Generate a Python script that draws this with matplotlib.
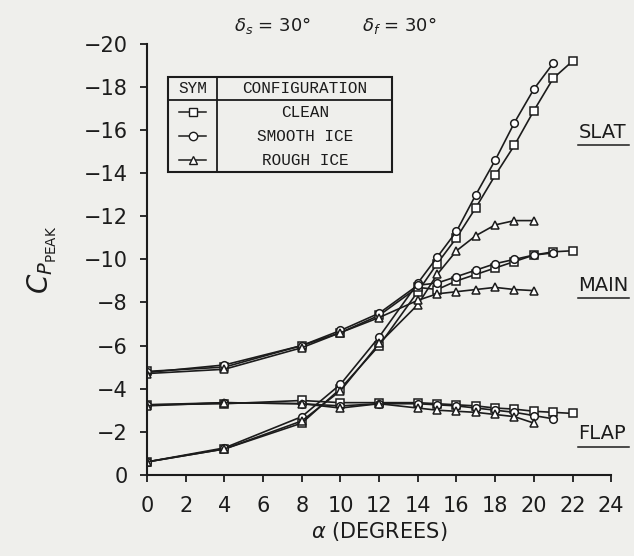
import matplotlib
matplotlib.use("Agg")
import matplotlib.pyplot as plt
from matplotlib.lines import Line2D
from matplotlib.patches import Rectangle

# angle of attack values (degrees)
alpha_clean = [0, 4, 8, 10, 12, 14, 15, 16, 17, 18, 19, 20, 21, 22]
alpha_smooth = [0, 4, 8, 10, 12, 14, 15, 16, 17, 18, 19, 20, 21]
alpha_rough = [0, 4, 8, 10, 12, 14, 15, 16, 17, 18, 19, 20]

# slat peak Cp
slat_clean = [-0.6, -1.2, -2.4, -4.0, -6.0, -8.5, -9.8, -11.0, -12.4, -13.9, -15.3, -16.9, -18.4, -19.2]
slat_smooth = [-0.6, -1.25, -2.7, -4.2, -6.4, -8.9, -10.1, -11.3, -13.0, -14.6, -16.35, -17.9, -19.1]
slat_rough = [-0.6, -1.2, -2.5, -3.9, -6.1, -7.9, -9.3, -10.4, -11.1, -11.6, -11.8, -11.8]

# main element peak Cp
main_clean = [-4.8, -5.0, -6.0, -6.6, -7.4, -8.7, -8.6, -9.0, -9.3, -9.6, -9.9, -10.2, -10.35, -10.4]
main_smooth = [-4.75, -5.1, -6.0, -6.7, -7.5, -8.8, -8.9, -9.2, -9.5, -9.8, -10.0, -10.2, -10.3]
main_rough = [-4.7, -4.9, -5.9, -6.6, -7.3, -8.1, -8.4, -8.5, -8.6, -8.7, -8.6, -8.55]

# flap peak Cp
flap_clean = [-3.25, -3.3, -3.45, -3.35, -3.35, -3.35, -3.3, -3.25, -3.2, -3.1, -3.05, -2.95, -2.9, -2.85]
flap_smooth = [-3.25, -3.35, -3.3, -3.2, -3.3, -3.3, -3.25, -3.2, -3.1, -3.0, -2.9, -2.75, -2.6]
flap_rough = [-3.2, -3.35, -3.3, -3.1, -3.3, -3.1, -3.0, -2.95, -2.9, -2.8, -2.7, -2.4]

x_ticks = list(range(0, 25, 2))
y_ticks = list(range(0, -21, -2))
config_names = ["CLEAN", "SMOOTH ICE", "ROUGH ICE"]
config_markers = ["s", "o", "^"]
element_labels = ["SLAT", "MAIN", "FLAP"]
element_label_y = [-15.9, -8.8, -1.9]

ink = "#1c1c1c"
paper = "#efefec"
plt.rcParams["font.family"] = ["DejaVu Sans"]
plt.rcParams["mathtext.fontset"] = "dejavusans"

fig = plt.figure(figsize=(6.34, 5.56), dpi=100, facecolor=paper)
ax = fig.add_axes([0.232, 0.146, 0.732, 0.775])
ax.set_facecolor(paper)

groups = [
    (alpha_clean, [slat_clean, main_clean, flap_clean], "s"),
    (alpha_smooth, [slat_smooth, main_smooth, flap_smooth], "o"),
    (alpha_rough, [slat_rough, main_rough, flap_rough], "^"),
]
for alpha, series, mk in groups:
    for vals in series:
        ax.plot(alpha, vals, color=ink, lw=1.2, marker=mk, ms=5.5,
                mfc="white", mec=ink, mew=1.1)

ax.set_xlim(0, 24)
ax.set_ylim(0, -20)
ax.set_xticks(x_ticks)
ax.set_yticks(y_ticks)
ax.set_yticklabels(["0"] + ["\u2212%d" % (-t) for t in y_ticks[1:]])
ax.tick_params(colors=ink, labelsize=15, length=5, width=1.3)
ax.tick_params(axis="x", pad=10)
ax.tick_params(axis="y", pad=9)
for s in ["top", "right"]:
    ax.spines[s].set_visible(False)
for s in ["left", "bottom"]:
    ax.spines[s].set_color(ink)
    ax.spines[s].set_linewidth(1.5)

ax.set_xlabel(r"$\alpha$ (DEGREES)", fontsize=15, color=ink, labelpad=3)
ax.set_ylabel(r"$C_{P_{\mathrm{PEAK}}}$", fontsize=20, color=ink, labelpad=18)

fig.text(0.43, 0.955, r"$\delta_s$ = 30°", fontsize=13, color=ink, ha="center", va="center")
fig.text(0.63, 0.955, r"$\delta_f$ = 30°", fontsize=13, color=ink, ha="center", va="center")

# element labels with underline
for label, yv in zip(element_labels, element_label_y):
    ax.text(22.3, yv, label, fontsize=14, color=ink, ha="left", va="center", clip_on=False)
    ax.plot([22.3, 24.9], [yv + 0.6, yv + 0.6], color=ink, lw=1.1, clip_on=False)

# legend table
tab = dict(transform=ax.transAxes, clip_on=False)
mono = "Liberation Mono"
ax.add_patch(Rectangle((0.045, 0.703), 0.483, 0.22, fill=False, ec=ink, lw=1.5, **tab))
ax.add_line(Line2D([0.045, 0.528], [0.870, 0.870], color=ink, lw=1.3, **tab))
ax.add_line(Line2D([0.151, 0.151], [0.703, 0.923], color=ink, lw=1.3, **tab))
ax.text(0.098, 0.896, "SYM", fontsize=11.5, family=mono, color=ink,
        ha="center", va="center", transform=ax.transAxes)
ax.text(0.34, 0.896, "CONFIGURATION", fontsize=11.5, family=mono, color=ink,
        ha="center", va="center", transform=ax.transAxes)
for i, (name, mk) in enumerate(zip(config_names, config_markers)):
    yy = 0.842 - i * 0.056
    ax.add_line(Line2D([0.068, 0.128], [yy, yy], color=ink, lw=1.1, **tab))
    ax.add_line(Line2D([0.098], [yy], marker=mk, ms=6, mfc="white", mec=ink, mew=1.0,
                       lw=0, **tab))
    ax.text(0.34, yy, name, fontsize=11.5, family=mono, color=ink,
            ha="center", va="center", transform=ax.transAxes)

fig.savefig("out.png", dpi=100, facecolor=paper)
